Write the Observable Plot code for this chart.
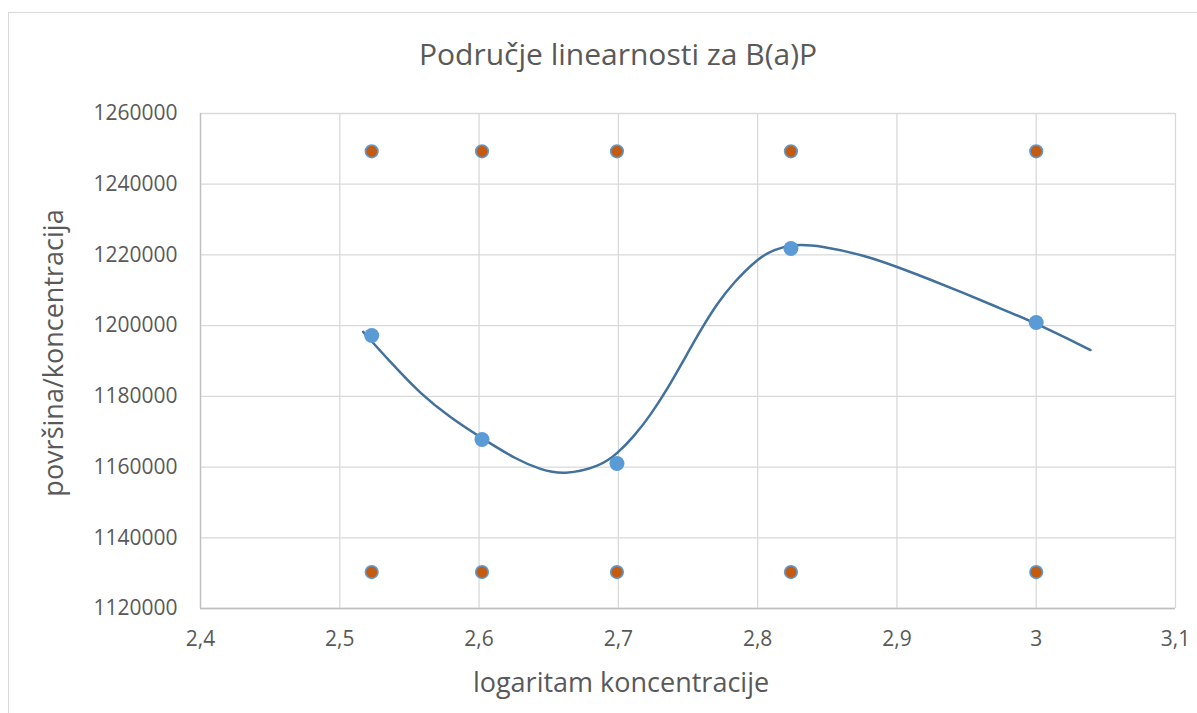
<!DOCTYPE html>
<html>
<head>
<meta charset="utf-8">
<script src="https://cdn.jsdelivr.net/npm/d3@7"></script>
<script src="https://cdn.jsdelivr.net/npm/@observablehq/plot@0.6"></script>
<style>
  html, body { margin: 0; padding: 0; background: #fff; }
  #wrap { position: relative; width: 1197px; height: 713px; overflow: hidden; }
  #frame { position: absolute; left: 8px; top: 12px; width: 1300px; height: 800px;
           border-left: 1.5px solid #D9D9D9; border-top: 1.5px solid #D9D9D9; }
  #chart { position: absolute; left: 0; top: 0; }
</style>
</head>
<body>
<div id="wrap"><div id="frame"></div><div id="chart"></div></div>
<script>
// Data
const xLog = [2.5229, 2.6021, 2.6990, 2.8239, 3.0000];
const yValues = [1197200, 1167800, 1161000, 1221800, 1200900];
const upperSeries = [1249300, 1249300, 1249300, 1249300, 1249300];
const lowerSeries = [1130300, 1130300, 1130300, 1130300, 1130300];
// Trendline
const trendX = [2.5168, 2.5364, 2.5579, 2.5795, 2.6022, 2.6274, 2.6441, 2.6608, 2.6872, 2.6992, 2.7111, 2.7231, 2.7351, 2.7470, 2.7590, 2.7710, 2.7829, 2.8001, 2.8116, 2.8259, 2.8451, 2.8762, 2.9001, 2.9241, 2.9480, 2.9720, 3.0004, 3.0390];
const trendY = [1198260, 1189650, 1180700, 1173900, 1168100, 1162000, 1159300, 1157750, 1160200, 1163800, 1168600, 1174700, 1182000, 1190300, 1198700, 1206300, 1212300, 1219000, 1221550, 1223050, 1222630, 1219940, 1216650, 1213000, 1209200, 1205250, 1200600, 1193100];
const xTicks = [2.4, 2.5, 2.6, 2.7, 2.8, 2.9, 3.0, 3.1];
const yTicks = [1120000, 1140000, 1160000, 1180000, 1200000, 1220000, 1240000, 1260000];
const titleText = "Područje linearnosti za B(a)P";
const xTitle = "logaritam koncentracije";
const yTitle = "površina/koncentracija";

const points = xLog.map((x, i) => ({x, y: yValues[i]}));
const upper = xLog.map((x, i) => ({x, y: upperSeries[i]}));
const lower = xLog.map((x, i) => ({x, y: lowerSeries[i]}));
const trend = trendX.map((x, i) => ({x, y: trendY[i]}));
const fmtX = d => String(+d.toFixed(1)).replace(".", ",");
const textColor = "#595959";
const font = "'Open Sans', sans-serif";

const chart = Plot.plot({
  width: 1197,
  height: 713,
  marginLeft: 200,
  marginRight: 22,
  marginTop: 113,
  marginBottom: 105,
  style: { fontFamily: font, color: textColor, background: "transparent", overflow: "visible" },
  x: { domain: [2.4, 3.1] },
  y: { domain: [1120000, 1260000] },
  marks: [
    Plot.gridX(xTicks, { stroke: "#D9D9D9", strokeOpacity: 1, strokeWidth: 1.3 }),
    Plot.gridY(yTicks, { stroke: "#D9D9D9", strokeOpacity: 1, strokeWidth: 1.3 }),
    Plot.ruleX([2.4], { stroke: "#BFBFBF", strokeWidth: 1.3 }),
    Plot.ruleY([1120000], { stroke: "#BFBFBF", strokeWidth: 1.3 }),
    Plot.axisX(xTicks, { tickSize: 0, tickPadding: 23, tickFormat: fmtX, fontSize: 21, fill: textColor, label: null }),
    Plot.axisY(yTicks, { tickSize: 0, tickPadding: 23, tickFormat: d => String(d), fontSize: 21, fill: textColor, label: null }),
    Plot.line(trend, { x: "x", y: "y", curve: "basis", stroke: "#41719C", strokeWidth: 2.5 }),
    Plot.dot(points, { x: "x", y: "y", r: 7.5, fill: "#5B9BD5", stroke: "none" }),
    Plot.dot(upper, { x: "x", y: "y", r: 6.3, fill: "#C55A11", stroke: "#5B9BD5", strokeWidth: 1.6 }),
    Plot.dot(lower, { x: "x", y: "y", r: 6.3, fill: "#C55A11", stroke: "#5B9BD5", strokeWidth: 1.6 }),
    Plot.text([titleText], { frameAnchor: "top", dx: -70, dy: -58, fontSize: 30, fill: textColor, lineAnchor: "middle" }),
    Plot.text([xTitle], { frameAnchor: "bottom", dx: -67, dy: 75, fontSize: 27, fill: textColor, lineAnchor: "middle" }),
    Plot.text([yTitle], { frameAnchor: "left", dx: -146, dy: -8, rotate: -90, fontSize: 27, fill: textColor, lineAnchor: "middle", textAnchor: "middle" })
  ]
});
document.getElementById("chart").appendChild(chart);
</script>
</body>
</html>
